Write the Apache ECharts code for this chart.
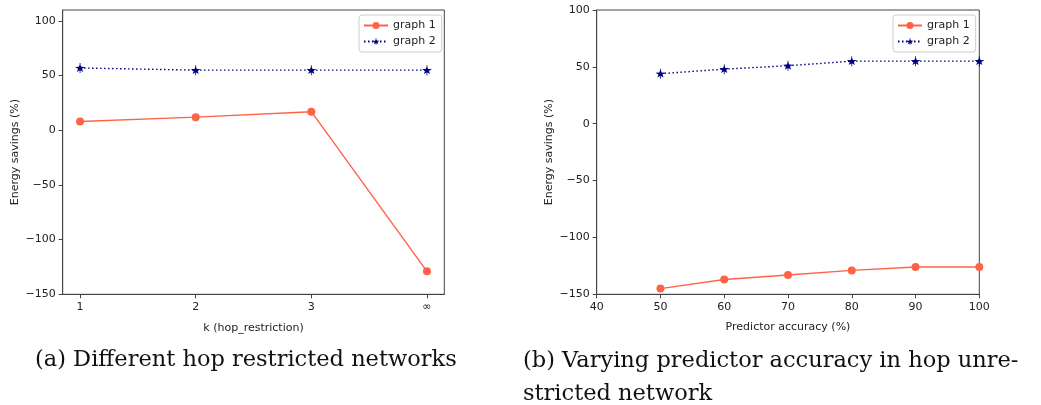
<!DOCTYPE html>
<html>
<head>
<meta charset="utf-8">
<script src="https://cdn.jsdelivr.net/npm/echarts@6/dist/echarts.min.js"></script>
<style>
html,body{margin:0;padding:0;background:#fff;}
#c{width:1041px;height:405px;}
</style>
</head>
<body>
<div id="c"></div>
<script>
// ---- data ----
const hopX = [1, 2, 3, 4];
const hopLabels = ['1', '2', '3', '\u221e'];
const hopGraph1 = [8, 12, 17, -129];
const hopGraph2 = [57, 55, 55, 55];

const accX = [50, 60, 70, 80, 90, 100];
const accGraph1 = [-145, -137, -133, -129, -126, -126];
const accGraph2 = [44, 48, 51, 55, 55, 55];

const yTicks = [-150, -100, -50, 0, 50, 100];
const seriesNames = ['graph 1', 'graph 2'];
const captionA = '(a) Different hop restricted networks';
const captionB1 = '(b) Varying predictor accuracy in hop unre-';
const captionB2 = 'stricted network';

// ---- styles ----
const c1 = '#ff6347', c2 = '#000080';
const axisCol = '#444';
const starPath = 'path://M5,3 L5.94,5.706 L8.804,5.764 L6.522,7.494 L7.351,10.236 L5,8.6 L2.649,10.236 L3.478,7.494 L1.196,5.764 L4.06,5.706 Z M4.7,2.2 H5.3 V11.2 H4.7 Z';
const minus = v => String(v).replace('-', '\u2212');
const font = 'DejaVu Sans';
const capFont = '22.5px "DejaVu Serif"';

function xy(a, b) { return a.map((v, i) => [v, b[i]]); }

const chart = echarts.init(document.getElementById('c'), null, {renderer: 'canvas'});

function yAxis(gi, min, max) {
  return {
    type: 'value', gridIndex: gi, min: min, max: max,
    name: 'Energy savings (%)', nameLocation: 'middle', nameGap: 42,
    nameTextStyle: {fontFamily: font, fontSize: 11, color: '#222'},
    axisLine: {show: true, lineStyle: {color: axisCol}},
    axisTick: {show: true, length: 4, lineStyle: {color: axisCol}, customValues: yTicks},
    axisLabel: {fontFamily: font, fontSize: 11, color: '#222', margin: 7, formatter: minus, customValues: yTicks},
    splitLine: {show: false}
  };
}

const legendCommon = {
  orient: 'vertical', top: 15, itemGap: 5, itemWidth: 24, itemHeight: 9,
  padding: [5, 6, 5, 4], borderColor: '#ccc', borderWidth: 1, borderRadius: 3,
  textStyle: {fontFamily: font, fontSize: 11, color: '#222'},
  data: seriesNames
};

const option = {
  animation: false,
  backgroundColor: '#fff',
  grid: [
    {left: 62.7, top: 10, width: 381.6, height: 284.3, show: true, borderColor: axisCol, borderWidth: 1, backgroundColor: 'transparent'},
    {left: 596.7, top: 10, width: 382.6, height: 284.3, show: true, borderColor: axisCol, borderWidth: 1, backgroundColor: 'transparent'}
  ],
  xAxis: [
    {
      type: 'value', gridIndex: 0, min: 0.85, max: 4.15,
      name: 'k (hop_restriction)', nameLocation: 'middle', nameGap: 28,
      nameTextStyle: {fontFamily: font, fontSize: 11, color: '#222'},
      axisLine: {show: true, onZero: false, lineStyle: {color: axisCol}},
      axisTick: {show: true, length: 4, lineStyle: {color: axisCol}, customValues: hopX},
      axisLabel: {fontFamily: font, fontSize: 11, color: '#222', margin: 7, customValues: hopX,
        formatter: v => hopLabels[hopX.indexOf(v)]},
      splitLine: {show: false}
    },
    {
      type: 'value', gridIndex: 1, min: 40, max: 100, interval: 10,
      name: 'Predictor accuracy (%)', nameLocation: 'middle', nameGap: 27,
      nameTextStyle: {fontFamily: font, fontSize: 11, color: '#222'},
      axisLine: {show: true, onZero: false, lineStyle: {color: axisCol}},
      axisTick: {show: true, length: 4, lineStyle: {color: axisCol}},
      axisLabel: {fontFamily: font, fontSize: 11, color: '#222', margin: 7, showMaxLabel: true, showMinLabel: true},
      splitLine: {show: false}
    }
  ],
  yAxis: [yAxis(0, -150, 110), yAxis(1, -150, 100)],
  legend: [
    Object.assign({}, legendCommon, {left: 359}),
    Object.assign({}, legendCommon, {left: 893})
  ],
  series: [
    {name: seriesNames[0], type: 'line', xAxisIndex: 0, yAxisIndex: 0, data: xy(hopX, hopGraph1),
      symbol: 'circle', symbolSize: 8, itemStyle: {color: c1}, lineStyle: {color: c1, width: 1.4}},
    {name: seriesNames[1], type: 'line', xAxisIndex: 0, yAxisIndex: 0, data: xy(hopX, hopGraph2),
      symbol: starPath, symbolSize: [10, 10], itemStyle: {color: c2}, lineStyle: {color: c2, width: 1.4, type: [1.5, 2.5]}},
    {name: seriesNames[0], type: 'line', xAxisIndex: 1, yAxisIndex: 1, data: xy(accX, accGraph1),
      symbol: 'circle', symbolSize: 8, itemStyle: {color: c1}, lineStyle: {color: c1, width: 1.4}, clip: false},
    {name: seriesNames[1], type: 'line', xAxisIndex: 1, yAxisIndex: 1, data: xy(accX, accGraph2),
      symbol: starPath, symbolSize: [10, 10], itemStyle: {color: c2}, lineStyle: {color: c2, width: 1.4, type: [1.5, 2.5]}, clip: false}
  ],
  graphic: [
    {type: 'text', left: 35, top: 349, style: {text: captionA, font: capFont, fill: '#111'}},
    {type: 'text', left: 523, top: 345, style: {text: captionB1 + '\n' + captionB2, font: capFont, lineHeight: 33, fill: '#111'}}
  ]
};
chart.setOption(option);
</script>
</body>
</html>
